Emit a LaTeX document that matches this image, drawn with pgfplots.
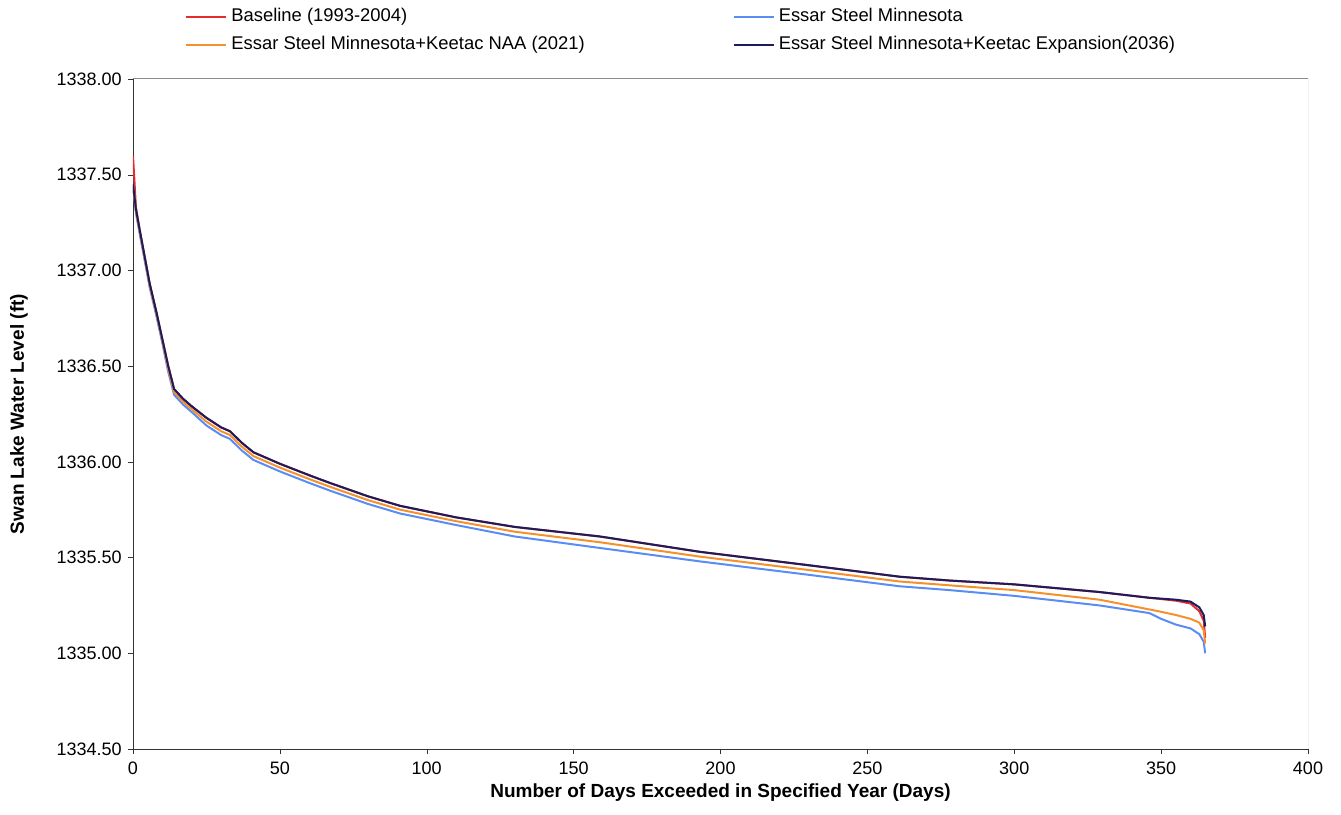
\documentclass[border=0pt]{standalone}
\usepackage{pgfplots}
\pgfplotsset{compat=1.18}
\usepackage{fontspec}
\setmainfont{Liberation Sans}
\definecolor{cRed}{RGB}{225,45,45}
\definecolor{cBlue}{RGB}{90,140,245}
\definecolor{cOrange}{RGB}{245,145,45}
\definecolor{cNavy}{RGB}{28,28,92}
\begin{document}
\fontsize{9}{11}\selectfont
\begin{tikzpicture}
\begin{axis}[
  scale only axis,
  width=587.5pt, height=335pt,
  xmin=0, xmax=400, ymin=1334.5, ymax=1338,
  xtick={0,50,...,400},
  ytick={1334.5,1335,...,1338},
  axis lines=left,
  axis line style={-, black!80},
  tick align=outside,
  major tick length=2.5pt,
  tick style={black!80},
  /pgf/number format/assume math mode=true,
  yticklabel style={/pgf/number format/fixed, /pgf/number format/fixed zerofill, /pgf/number format/precision=2, /pgf/number format/1000 sep={}},
  xticklabel style={/pgf/number format/1000 sep={}, yshift=-1pt},
  ticklabel style={font=\fontsize{9}{11}\selectfont},
  legend columns=2,
  legend cell align=left,
  legend style={draw=none, fill=none, at={(0,1)}, anchor=south west, xshift=26pt, yshift=11pt,
    inner sep=0pt, row sep=2pt, font=\fontsize{9.2}{11}\selectfont,
    /tikz/every even column/.append style={column sep=72pt}},
  legend image code/.code={\draw[#1] (0pt,0pt) -- (20pt,0pt);},
  every axis plot/.append style={line width=1pt},
]
\addplot[cRed] coordinates {
(0,1337.60) (1,1337.33) (2.3,1337.21) (4,1337.07) (5.7,1336.93) (8,1336.78) (10,1336.64) (12,1336.50) (14,1336.38) (17,1336.33) (20,1336.29) (25,1336.23) (30,1336.18) (33,1336.16) (37,1336.10) (41,1336.05) (50,1335.99) (60,1335.93) (67,1335.89) (80,1335.82) (91,1335.77) (110,1335.71) (130,1335.66) (159,1335.61) (193,1335.53) (230,1335.46) (261,1335.40) (278,1335.38) (300,1335.36) (329,1335.32) (346,1335.29) (355,1335.275) (360,1335.26) (363,1335.22) (364.5,1335.17) (365,1335.08)
};
\addlegendentry{Baseline (1993-2004)}
\addplot[cBlue] coordinates {
(0,1337.45) (1,1337.30) (2.3,1337.19) (4,1337.05) (5.7,1336.91) (8,1336.76) (10,1336.62) (12,1336.47) (14,1336.35) (17,1336.30) (20,1336.26) (25,1336.19) (30,1336.14) (33,1336.12) (37,1336.06) (41,1336.01) (50,1335.95) (60,1335.89) (67,1335.85) (80,1335.78) (91,1335.73) (110,1335.67) (130,1335.61) (159,1335.55) (193,1335.48) (230,1335.41) (261,1335.35) (278,1335.33) (300,1335.30) (329,1335.25) (346,1335.21) (350,1335.18) (355,1335.15) (360,1335.13) (363,1335.10) (364.5,1335.06) (365,1335.00)
};
\addlegendentry{Essar Steel Minnesota}
\addplot[cOrange] coordinates {
(0,1337.45) (1,1337.31) (2.3,1337.20) (4,1337.06) (5.7,1336.92) (8,1336.77) (10,1336.63) (12,1336.485) (14,1336.365) (17,1336.315) (20,1336.275) (25,1336.21) (30,1336.16) (33,1336.14) (37,1336.08) (41,1336.03) (50,1335.97) (60,1335.91) (67,1335.87) (80,1335.80) (91,1335.75) (110,1335.69) (130,1335.635) (159,1335.58) (193,1335.505) (230,1335.435) (261,1335.375) (278,1335.355) (300,1335.33) (329,1335.28) (349,1335.22) (355,1335.20) (360,1335.18) (363,1335.16) (364.5,1335.12) (365,1335.05)
};
\addlegendentry{Essar Steel Minnesota+Keetac NAA (2021)}
\addplot[cNavy] coordinates {
(0,1337.45) (1,1337.32) (2.3,1337.21) (4,1337.07) (5.7,1336.93) (8,1336.78) (10,1336.64) (12,1336.50) (14,1336.38) (17,1336.33) (20,1336.29) (25,1336.23) (30,1336.18) (33,1336.16) (37,1336.10) (41,1336.05) (50,1335.99) (60,1335.93) (67,1335.89) (80,1335.82) (91,1335.77) (110,1335.71) (130,1335.66) (159,1335.61) (193,1335.53) (230,1335.46) (261,1335.40) (278,1335.38) (300,1335.36) (329,1335.32) (346,1335.29) (355,1335.28) (360,1335.27) (363,1335.24) (364.5,1335.20) (365,1335.14)
};
\addlegendentry{Essar Steel Minnesota+Keetac Expansion(2036)}
\draw[black!45, line width=0.5pt] (rel axis cs:0,1) -- (rel axis cs:1,1) -- (rel axis cs:1,0);
\coordinate (o) at (rel axis cs:0,0);
\coordinate (p) at (rel axis cs:1,1);
\coordinate (ym) at (rel axis cs:0,0.5);
\coordinate (xm) at (rel axis cs:0.5,0);
\end{axis}
\node[rotate=90, font=\fontsize{9.5}{11}\selectfont\bfseries] at ([xshift=-57pt]ym) {Swan Lake Water Level (ft)};
\node[font=\fontsize{9.5}{11}\selectfont\bfseries] at ([yshift=-22pt]xm) {Number of Days Exceeded in Specified Year (Days)};
\pgfresetboundingbox
\path ([xshift=-66.5pt,yshift=-33pt]o) rectangle ([xshift=16.5pt,yshift=39.5pt]p);
\end{tikzpicture}
\end{document}
